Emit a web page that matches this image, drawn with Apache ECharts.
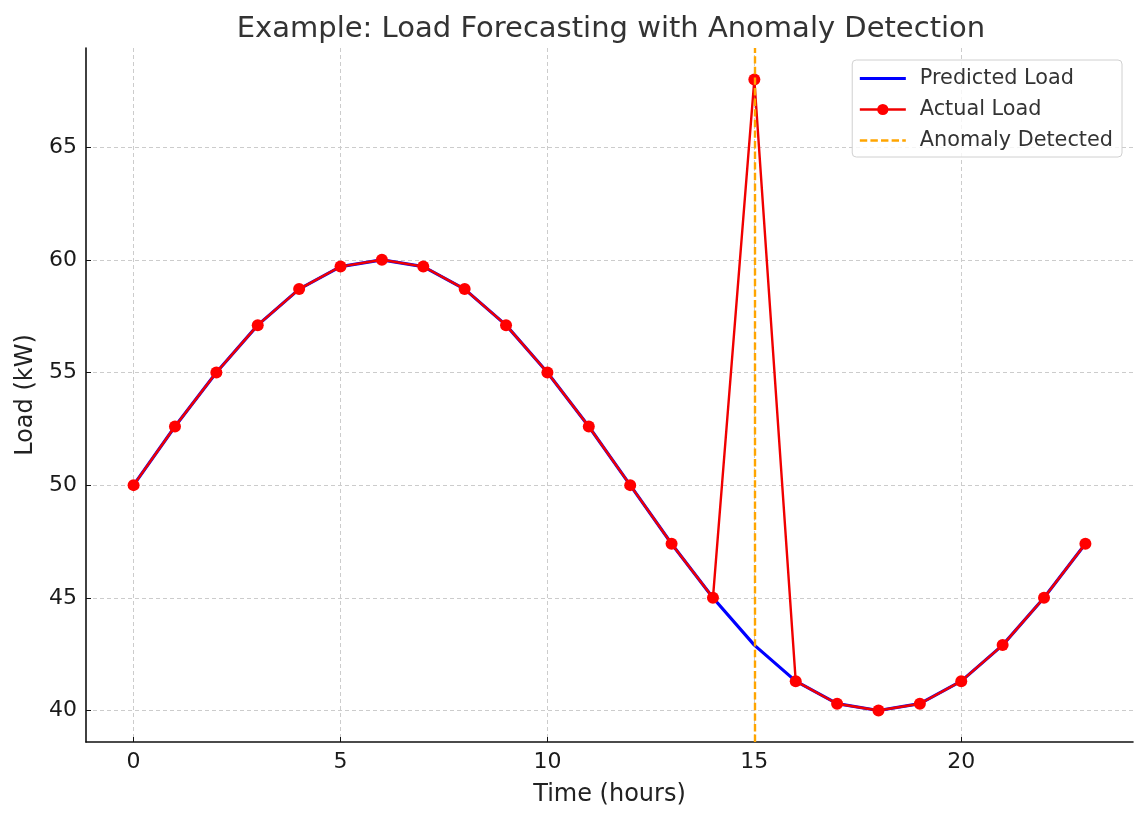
<!DOCTYPE html>
<html><head><meta charset="utf-8">
<script src="https://cdn.jsdelivr.net/npm/echarts@6/dist/echarts.min.js"></script>
<style>html,body{margin:0;padding:0;background:#fff}#c{width:1147px;height:821px}</style>
</head><body><div id="c"></div>
<script>
const hours = [0,1,2,3,4,5,6,7,8,9,10,11,12,13,14,15,16,17,18,19,20,21,22,23];
const predicted = [50,52.6,55,57.1,58.7,59.7,60,59.7,58.7,57.1,55,52.6,50,47.4,45,42.9,41.3,40.3,40,40.3,41.3,42.9,45,47.4];
const actual = [50,52.6,55,57.1,58.7,59.7,60,59.7,58.7,57.1,55,52.6,50,47.4,45,68,41.3,40.3,40,40.3,41.3,42.9,45,47.4];
const anomalyHour = 15;
const xTicks = [0,5,10,15,20];
const yTicks = [40,45,50,55,60,65];

const font = 'DejaVu Sans';
const chart = echarts.init(document.getElementById('c'));
const pair = (xs, ys) => xs.map((x,i)=>[x, ys[i]]);
chart.setOption({
  animation: false,
  textStyle: {fontFamily: font},
  title: {text: 'Example: Load Forecasting with Anomaly Detection', left: 606, top: 10, textAlign: 'center',
    textStyle: {fontFamily: font, fontSize: 29, fontWeight: 'normal', color: '#333'}},
  grid: {left: 86, right: 14, top: 48, bottom: 79, containLabel: false},
  legend: {
    right: 25, top: 60, orient: 'vertical', itemGap: 10, itemWidth: 46, itemHeight: 14,
    padding: [8, 9, 6, 6],
    borderColor: '#d0d0d0', borderWidth: 1, borderRadius: 4, backgroundColor: 'rgba(255,255,255,0.8)',
    textStyle: {fontFamily: font, fontSize: 20.8, color: '#333', padding: [0, 0, 0, 9]},
    data: [
      {name: 'Predicted Load', itemStyle: {opacity: 0}, lineStyle: {width: 3.2}},
      {name: 'Actual Load', lineStyle: {width: 2.4}},
      {name: 'Anomaly Detected', itemStyle: {opacity: 0}, lineStyle: {width: 2.4}}
    ]
  },
  xAxis: {
    type: 'value', min: -1.15, max: 24.15,
    name: 'Time (hours)', nameLocation: 'middle', nameGap: 41,
    nameTextStyle: {fontFamily: font, fontSize: 24, color: '#222'},
    axisLine: {onZero: false, lineStyle: {color: '#111', width: 1.6}},
    axisTick: {inside: true, length: 5, customValues: xTicks, lineStyle: {color: '#111'}},
    axisLabel: {customValues: xTicks, fontFamily: font, fontSize: 22, color: '#1a1a1a', margin: 9},
    splitLine: {show: true, lineStyle: {color: '#ccc', type: [4, 3], width: 1}}
  },
  yAxis: {
    type: 'value', min: 38.6, max: 69.4,
    name: 'Load (kW)', nameLocation: 'middle', nameGap: 48, nameRotate: 90,
    nameTextStyle: {fontFamily: font, fontSize: 24, color: '#222'},
    axisLine: {show: true, onZero: false, lineStyle: {color: '#111', width: 1.6}},
    axisTick: {show: true, inside: true, length: 5, customValues: yTicks, lineStyle: {color: '#111'}},
    axisLabel: {customValues: yTicks, fontFamily: font, fontSize: 22, color: '#1a1a1a', margin: 9},
    splitLine: {show: true, lineStyle: {color: '#ccc', type: [4, 3], width: 1}}
  },
  series: [
    {name: 'Predicted Load', type: 'line', data: pair(hours, predicted), symbol: 'none',
      lineStyle: {color: '#0000ff', width: 3.2}, itemStyle: {color: '#0000ff'}, z: 2},
    {name: 'Actual Load', type: 'line', data: pair(hours, actual), symbol: 'circle', symbolSize: 12,
      lineStyle: {color: '#f00000', width: 2.4}, itemStyle: {color: '#ff0000'}, z: 3},
    {name: 'Anomaly Detected', type: 'line', data: [], symbol: 'none',
      lineStyle: {color: '#ffa500', width: 2.4, type: [7.4, 3.2]}, itemStyle: {color: '#ffa500'}, z: 5,
      markLine: {silent: true, symbol: 'none', label: {show: false}, animation: false,
        lineStyle: {color: '#ffa500', width: 2.4, type: [7.4, 3.2]},
        data: [{xAxis: anomalyHour}]}}
  ]
});
</script></body></html>
